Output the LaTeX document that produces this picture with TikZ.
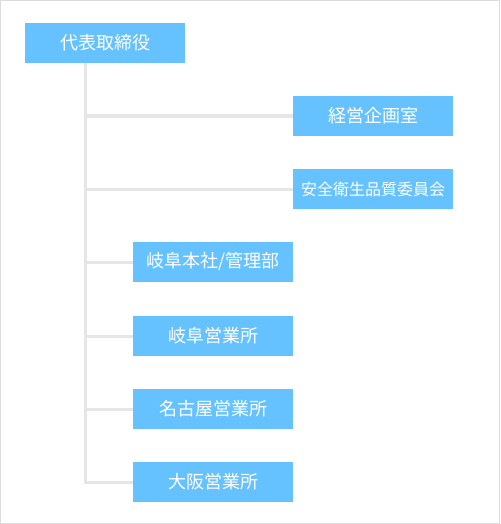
\documentclass[tikz,border=0pt]{standalone}
\usepackage{fontspec}
\setmainfont{Noto Sans CJK JP}
\definecolor{boxblue}{RGB}{102,194,255}
\definecolor{linegray}{RGB}{230,230,230}
\definecolor{framegray}{RGB}{220,220,220}
\begin{document}
\begin{tikzpicture}[
        x=1pt, y=-1pt,
        unit/.style={fill=boxblue,text=white,inner sep=0pt,
            minimum width=160pt,minimum height=40pt,font=\fontsize{18}{21}\selectfont},
        small/.style={font=\fontsize{16}{19}\selectfont},
        link/.style={draw=linegray,line width=3pt},
        ]
    \useasboundingbox (0,0) rectangle (500,524);
    \draw[framegray,line width=1pt] (0.5,0.5) rectangle (499.5,523.5);
    % boxes
    \node (ceo) [unit] at (105,43) {代表取締役};
    \node (keiei) [unit] at (373,116) {経営企画室};
    \node (anzen) [unit,small] at (373,189) {安全衛生品質委員会};
    \node (honsha) [unit] at (213,262) {岐阜本社/管理部};
    \node (gifu) [unit] at (213,336) {岐阜営業所};
    \node (nagoya) [unit] at (213,409) {名古屋営業所};
    \node (osaka) [unit] at (213,482) {大阪営業所};
    % spine
    \coordinate (spine) at (85,63);
    \draw[link] (spine) |- (osaka.west);
    \foreach \dept in {keiei,anzen,honsha,gifu,nagoya}
        \draw[link] (spine |- \dept.west) -- (\dept.west);
\end{tikzpicture}
\end{document}
